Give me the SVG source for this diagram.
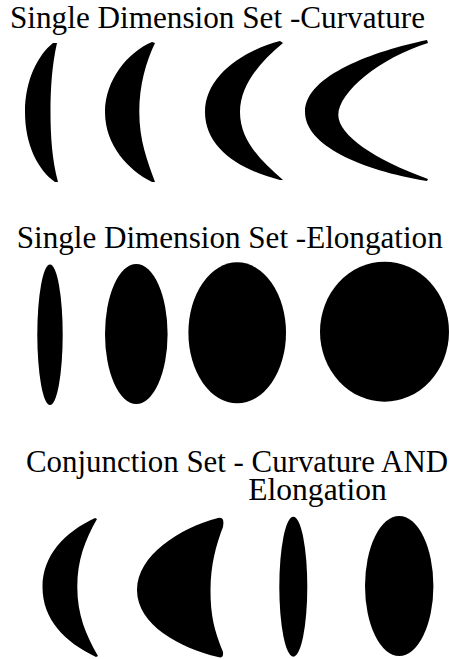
<svg xmlns="http://www.w3.org/2000/svg" width="450" height="659" viewBox="0 0 450 659">
<style>
.t{font-family:'Liberation Serif','Times New Roman',Times,serif;font-size:31px;fill:#000}
.s{fill:#000;stroke:none}
</style>
<rect width="450" height="659" fill="#fff"/>
<g id="title-curvature"><text class="t" x="10" y="28" textLength="415" lengthAdjust="spacingAndGlyphs">Single Dimension Set -Curvature</text></g>
<g id="curv-1"><path class="s" d="M53 43 C38 55 25 80 25 112 C25 145 38 170 55 182 L58 182 C52 160 50.5 135 50.5 112 C50.5 88 52 65 57 43 Z"/></g>
<g id="curv-2"><path class="s" d="M152 42 C128 52 105 80 105 112 C105 145 128 170 152 182 L155 182 C147 160 139.3 140 139.3 112 C139.3 85 146 62 155 43 Z"/></g>
<g id="curv-3"><path class="s" d="M280 41 C245 50 205 75 205 112 C205 148 240 170 280 180 L283 180 C260 160 240 140 240 112 C240 85 260 62 283 43 Z"/></g>
<g id="curv-4"><path class="s" d="M427 40 C375 51 305 75 305 112 C305 145 360 170 427 181 L428 179 C375 160 338.3 135 338.3 115 C338.3 92 380 58 428 43 Z"/></g>
<g id="title-elongation"><text class="t" x="16.7" y="248.3" textLength="426" lengthAdjust="spacingAndGlyphs">Single Dimension Set -Elongation</text></g>
<g id="elong-1"><ellipse class="s" cx="50" cy="334.7" rx="12.7" ry="70.3"/></g>
<g id="elong-2"><ellipse class="s" cx="136.3" cy="334" rx="31.3" ry="70"/></g>
<g id="elong-3"><ellipse class="s" cx="237.2" cy="332.8" rx="48.8" ry="70.5"/></g>
<g id="elong-4"><ellipse class="s" cx="384.5" cy="331.7" rx="64.5" ry="70"/></g>
<g id="title-conjunction"><text class="t" x="26" y="471.7" textLength="422" lengthAdjust="spacingAndGlyphs">Conjunction Set - Curvature AND</text><text class="t" x="248.3" y="500" textLength="138.4" lengthAdjust="spacingAndGlyphs">Elongation</text></g>
<g id="conj-1"><path class="s" d="M95 518 C65 532 42.5 555 42.5 587 C42.5 620 65 642 96 657 L98 656 C86 635 77.3 615 77.3 587 C77.3 560 85 540 97 519 Z"/></g>
<g id="conj-2"><path class="s" d="M218 518 C180 528 137 555 137 590 C137 625 180 648 218 657 Q224 659 223 652 C214 630 210.5 615 210.5 590 C210.5 565 216 545 223 527 Q225 516 218 518 Z"/></g>
<g id="conj-3"><ellipse class="s" cx="293.3" cy="586.7" rx="14" ry="70"/></g>
<g id="conj-4"><ellipse class="s" cx="399.2" cy="586" rx="34.2" ry="70"/></g>
</svg>
